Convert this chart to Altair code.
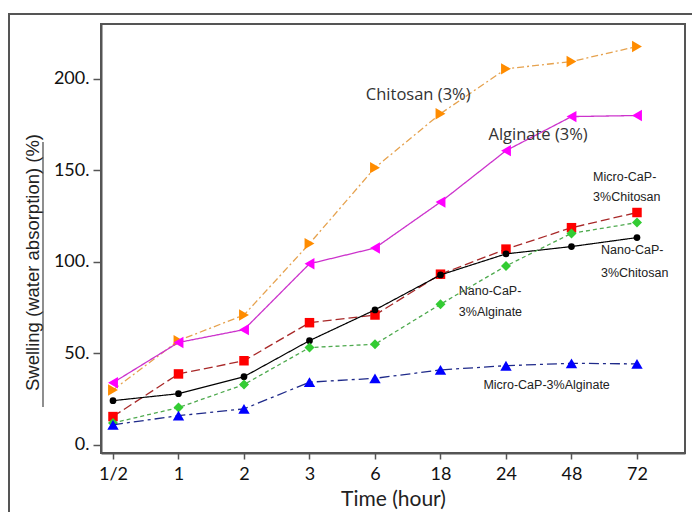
import altair as alt
import pandas as pd

# ---- data ----
time_labels = ["1/2", "1", "2", "3", "6", "18", "24", "48", "72"]
chitosan = [30, 57, 71, 110, 151.5, 181, 205.5, 209.5, 217.7]
alginate = [34, 56, 63, 99, 107.6, 132.7, 160.8, 179.4, 180]
micro_chitosan = [15.5, 38.8, 46, 66.8, 71, 93.3, 107, 118.7, 127]
nano_chitosan = [24.2, 28, 37.3, 57, 73.8, 92.9, 104.4, 108.4, 113.3]
nano_alginate = [12, 20.4, 33, 53.2, 55, 76.9, 97.8, 115.6, 121.5]
micro_alginate = [11, 16, 19.7, 34.3, 36.4, 41, 43.3, 44.6, 44.3]

series_names = ["Chitosan (3%)", "Alginate (3%)", "Micro-CaP-3%Chitosan",
                "Nano-CaP-3%Chitosan", "Nano-CaP-3%Alginate", "Micro-CaP-3%Alginate"]
series_values = [chitosan, alginate, micro_chitosan, nano_chitosan, nano_alginate, micro_alginate]

# annotation texts (x in category-index units, y in data units)
ann_text = ["Chitosan (3%)", "Alginate (3%)"]
ann_x = [4.66, 6.49]
ann_y = [191.3, 169.4]

small_text = ["Micro-CaP-", "3%Chitosan", "Nano-CaP-", "3%Chitosan",
              "Nano-CaP-", "3%Alginate"]
small_x = [7.33, 7.33, 7.45, 7.45, 5.28, 5.28]
small_y = [146.4, 135.5, 106.6, 94.0, 84.2, 72.7]

bottom_text = ["Micro-CaP-3%Alginate"]
bottom_x = [6.62]
bottom_y = [32.8]

# ---- styles ----
styles = {
    "Chitosan (3%)": dict(line="#E6A24E", marker="#FF8C00", shape="triangle-right", dash=[7, 3, 2, 3], size=130, sw=1.3),
    "Alginate (3%)": dict(line="#CC33CC", marker="#FF00FF", shape="triangle-left", dash=[1, 0], size=130, sw=1.3),
    "Micro-CaP-3%Chitosan": dict(line="#A82828", marker="#FF0000", shape="square", dash=[9, 4], size=90, sw=1.3),
    "Nano-CaP-3%Chitosan": dict(line="#000000", marker="#000000", shape="circle", dash=[1, 0], size=45, sw=1.2),
    "Nano-CaP-3%Alginate": dict(line="#4FAA4F", marker="#33CC33", shape="diamond", dash=[4, 3], size=100, sw=1.3),
    "Micro-CaP-3%Alginate": dict(line="#1F2A8A", marker="#0000FF", shape="triangle-up", dash=[10, 4, 3, 4], size=130, sw=1.3),
}

rows = []
for name, vals in zip(series_names, series_values):
    for i, v in enumerate(vals):
        rows.append({"series": name, "t": i, "value": v})
df = pd.DataFrame(rows)

label_expr = "[" + ",".join("'%s'" % s for s in time_labels) + "][round(datum.value)]"

xscale = alt.Scale(domain=[-0.183, 8.733], nice=False, zero=False)
yscale = alt.Scale(domain=[-4.4, 230], nice=False, zero=False)

x_enc = alt.X("t:Q", scale=xscale, axis=alt.Axis(
    values=list(range(len(time_labels))), labelExpr=label_expr, title="Time (hour)",
    grid=False, tickSize=6, tickColor="#555", domainColor="#555", domainWidth=2, tickWidth=1.5,
    labelFont="Lato", labelFontSize=18, labelColor="#111", labelPadding=6,
    titleFont="Lato", titleFontSize=21, titleFontWeight="normal", titleColor="#222", titlePadding=5))
y_enc = alt.Y("value:Q", scale=yscale, axis=alt.Axis(
    values=[0, 50, 100, 150, 200], labelExpr="datum.label + '.'", title="Swelling (water absorption) (%)",
    grid=False, tickSize=8, tickColor="#555", domainColor="#555", domainWidth=2, tickWidth=1.5,
    labelFont="Lato", labelFontSize=18, labelColor="#111", labelPadding=4,
    titleFont="Liberation Sans", titleFontSize=18.5, titleFontWeight="normal", titleColor="#222",
    titleX=-69, titleY=238, titleAngle=-90, titleAlign="center", titleBaseline="middle"))

layers = []
# outer frame (decoration)
frame = alt.Chart(pd.DataFrame({"a": [0]})).mark_rect(
    fill=None, stroke="#555", strokeWidth=2, clip=False).encode(
    x=alt.value(-92), x2=alt.value(700), y=alt.value(-10), y2=alt.value(600))
layers.append(frame)
# underline of the y title (decoration)
underline = alt.Chart(pd.DataFrame({"a": [0]})).mark_rule(
    stroke="#444", strokeWidth=1.2, clip=False).encode(
    x=alt.value(-58), y=alt.value(118), y2=alt.value(383))
layers.append(underline)

for name in series_names:
    st = styles[name]
    sub = alt.Chart(df).transform_filter(alt.datum.series == name)
    line = sub.mark_line(color=st["line"], strokeDash=st["dash"], strokeWidth=st["sw"]).encode(x=x_enc, y=y_enc)
    pts = sub.mark_point(shape=st["shape"], filled=True, color=st["marker"], size=st["size"], opacity=1).encode(x=x_enc, y=y_enc)
    layers += [line, pts]

ann_df = pd.DataFrame({"text": ann_text, "x": ann_x, "y": ann_y})
ann = alt.Chart(ann_df).mark_text(font="Open Sans", fontSize=16.5, color="#333", align="center", baseline="middle").encode(
    x=alt.X("x:Q", scale=xscale), y=alt.Y("y:Q", scale=yscale), text="text:N")
small_df = pd.DataFrame({"text": small_text, "x": small_x, "y": small_y})
small = alt.Chart(small_df).mark_text(font="Liberation Sans", fontSize=12.5, color="#222", align="left", baseline="middle").encode(
    x=alt.X("x:Q", scale=xscale), y=alt.Y("y:Q", scale=yscale), text="text:N")
bottom_df = pd.DataFrame({"text": bottom_text, "x": bottom_x, "y": bottom_y})
bottom = alt.Chart(bottom_df).mark_text(font="Liberation Sans", fontSize=12.5, color="#222", align="center", baseline="middle").encode(
    x=alt.X("x:Q", scale=xscale), y=alt.Y("y:Q", scale=yscale), text="text:N")
layers += [ann, small, bottom]

chart = alt.layer(*layers).properties(
    width=584, height=429,
    autosize=alt.AutoSizeParams(type="none"),
    padding={"left": 101, "top": 24, "right": 7, "bottom": 59},
    background="white",
).configure_view(stroke="#555", strokeWidth=2)

chart.save("out.html", embed_options={"renderer": "svg", "actions": False})
